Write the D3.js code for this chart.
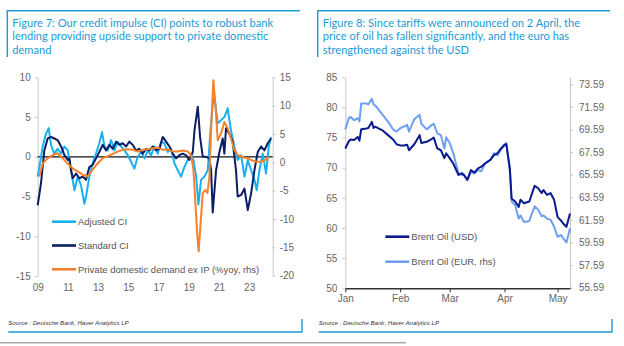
<!DOCTYPE html>
<html>
<head>
<meta charset="utf-8">
<script src="https://cdn.jsdelivr.net/npm/d3@7"></script>
<style>
  body { margin: 0; background: #fff; }
  svg { display: block; font-family: "Liberation Sans", Arial, sans-serif; }
</style>
</head>
<body>
<div id="chart"></div>
<script>
// Figure 7 data (decimal years)
const standardYears = [2009.00, 2009.22, 2009.44, 2009.66, 2009.88, 2010.10, 2010.32, 2010.55, 2010.77, 2010.99, 2011.10, 2011.21, 2011.32, 2011.54, 2011.76, 2011.98, 2012.20, 2012.42, 2012.64, 2012.86, 2013.08, 2013.30, 2013.53, 2013.75, 2013.97, 2014.19, 2014.41, 2014.63, 2014.85, 2015.07, 2015.29, 2015.51, 2015.73, 2015.95, 2016.17, 2016.40, 2016.62, 2016.84, 2017.06, 2017.28, 2017.50, 2017.72, 2017.94, 2018.16, 2018.38, 2018.60, 2018.82, 2019.04, 2019.27, 2019.38, 2019.60, 2019.75, 2019.93, 2020.15, 2020.37, 2020.48, 2020.59, 2020.81, 2021.03, 2021.25, 2021.36, 2021.47, 2021.69, 2021.91, 2022.13, 2022.24, 2022.47, 2022.69, 2022.91, 2023.13, 2023.35, 2023.57, 2023.79, 2024.01, 2024.23, 2024.45];
const standardCI = [-6.1, -3.3, 0.8, 2.3, 2.5, 2.3, 2.1, 1.3, 0.2, -0.4, -0.2, -1.7, -2.7, -2.1, -2.7, -2.5, -2.9, -1.3, -1.0, -0.2, 0.6, 1.5, 0.8, 1.5, 1.0, 1.9, 1.5, 1.7, 1.3, 1.9, 1.5, 0.8, 1.0, 0.4, 1.0, 0.8, 1.3, 0.8, 1.0, 2.5, 1.9, 1.3, 0.4, -0.2, 0.2, 0.4, 0.2, -0.4, 0.6, 3.3, 6.3, 2.5, 0.0, 0.0, -0.2, -1.7, -7.0, -1.7, 0.6, 2.3, 0.4, 3.6, 2.9, 1.9, -1.7, -5.0, -4.8, -4.0, -6.7, -4.6, -1.7, 0.6, 1.3, 0.8, 1.7, 2.3];

const adjustedYears = [2009.00, 2009.11, 2009.33, 2009.55, 2009.73, 2009.88, 2010.10, 2010.32, 2010.55, 2010.77, 2010.99, 2011.21, 2011.43, 2011.65, 2011.87, 2012.09, 2012.20, 2012.42, 2012.64, 2012.86, 2013.08, 2013.26, 2013.42, 2013.64, 2013.86, 2014.08, 2014.30, 2014.52, 2014.74, 2014.96, 2015.18, 2015.40, 2015.62, 2015.84, 2016.07, 2016.29, 2016.51, 2016.73, 2016.95, 2017.17, 2017.39, 2017.61, 2017.83, 2018.05, 2018.27, 2018.49, 2018.71, 2018.93, 2019.15, 2019.31, 2019.49, 2019.64, 2019.82, 2020.04, 2020.26, 2020.41, 2020.59, 2020.70, 2020.92, 2021.14, 2021.36, 2021.58, 2021.80, 2022.02, 2022.24, 2022.47, 2022.69, 2022.91, 2023.13, 2023.35, 2023.50, 2023.68, 2023.90, 2024.12, 2024.30, 2024.45];
const adjustedCI = [-2.5, -1.3, 1.3, 2.9, 3.6, 1.5, 0.4, 1.0, 0.4, 1.3, 0.8, -1.7, -4.2, -2.5, -3.6, -5.9, -5.0, -2.5, -0.8, 0.4, 1.7, 3.1, 1.3, 0.8, 2.1, 0.8, 1.9, 1.3, 0.8, 0.2, -0.6, -1.5, 0.0, 0.6, -0.2, 0.8, 0.2, 1.3, 0.4, 1.9, 1.7, 0.6, 1.0, -0.8, -1.7, -2.5, -1.3, -0.4, 0.2, -0.4, -2.5, -6.0, -2.9, -2.5, -1.7, 2.5, 6.7, 7.5, 4.2, 4.6, 5.0, 6.1, 3.3, 1.3, -0.4, 0.2, -2.5, -0.4, -1.7, -2.9, -4.2, -1.7, 0.4, -2.1, 1.3, 2.5];

const demandYears = [2009.11, 2009.33, 2009.66, 2009.99, 2010.32, 2010.66, 2010.99, 2011.32, 2011.65, 2011.98, 2012.31, 2012.64, 2012.97, 2013.30, 2013.64, 2013.97, 2014.30, 2014.63, 2014.96, 2015.29, 2015.62, 2015.95, 2016.28, 2016.62, 2016.95, 2017.28, 2017.61, 2017.94, 2018.27, 2018.60, 2018.93, 2019.15, 2019.31, 2019.44, 2019.57, 2019.66, 2019.77, 2019.93, 2020.10, 2020.24, 2020.37, 2020.50, 2020.63, 2020.76, 2020.92, 2021.14, 2021.36, 2021.58, 2021.80, 2022.02, 2022.24, 2022.58, 2022.91, 2023.13, 2023.46, 2023.79, 2024.12, 2024.30];
const privateDemand = [-2.5, -0.2, 0.7, 1.3, 1.6, 0.7, -0.2, -1.1, -1.6, -2.2, -2.5, -1.3, -0.2, 0.7, 1.1, 1.5, 1.9, 2.2, 2.3, 2.2, 1.9, 2.2, 2.3, 2.5, 2.6, 2.2, 2.3, 1.9, 1.9, 2.1, 1.9, 1.3, -1.3, -7.2, -13.0, -15.7, -11.3, -5.4, -4.9, -5.4, -2.5, 6.9, 14.5, 10.4, 3.9, 5.1, 7.1, 6.0, 4.2, 2.2, 1.3, 0.9, 0.7, 0.4, 0.1, 0.1, 0.5, 0.9];

const yearTicks = [2009, 2011, 2013, 2015, 2017, 2019, 2021, 2023];
const ciTicks = [-15, -10, -5, 0, 5, 10];
const demandTicks = [-20, -15, -10, -5, 0, 5, 10, 15];

// Figure 8 data (daily, 2025)
const oilDates = ["2025-01-01", "2025-01-03", "2025-01-04", "2025-01-06", "2025-01-08", "2025-01-09", "2025-01-10", "2025-01-13", "2025-01-14", "2025-01-16", "2025-01-17", "2025-01-18", "2025-01-20", "2025-01-22", "2025-01-24", "2025-01-26", "2025-01-28", "2025-01-30", "2025-02-01", "2025-02-03", "2025-02-05", "2025-02-06", "2025-02-09", "2025-02-12", "2025-02-13", "2025-02-16", "2025-02-19", "2025-02-20", "2025-02-22", "2025-02-24", "2025-02-26", "2025-02-27", "2025-03-01", "2025-03-03", "2025-03-06", "2025-03-08", "2025-03-09", "2025-03-11", "2025-03-13", "2025-03-15", "2025-03-17", "2025-03-19", "2025-03-21", "2025-03-24", "2025-03-26", "2025-03-28", "2025-03-30", "2025-04-01", "2025-04-02", "2025-04-04", "2025-04-05", "2025-04-07", "2025-04-09", "2025-04-10", "2025-04-12", "2025-04-15", "2025-04-18", "2025-04-20", "2025-04-22", "2025-04-23", "2025-04-25", "2025-04-27", "2025-04-29", "2025-05-01", "2025-05-03", "2025-05-04", "2025-05-06", "2025-05-08"];
const brentUSD = [73.2, 74.4, 74.7, 74.6, 75.1, 74.5, 76.4, 76.5, 76.6, 77.6, 76.6, 76.8, 76.5, 76.2, 75.7, 75.2, 74.7, 73.9, 73.7, 73.7, 73.8, 72.9, 73.9, 75.4, 74.1, 74.3, 74.8, 75.0, 73.2, 72.9, 71.6, 72.4, 71.6, 70.7, 68.8, 69.1, 68.8, 68.0, 69.6, 69.2, 69.9, 70.2, 70.7, 71.3, 72.1, 72.4, 73.2, 73.8, 73.9, 69.9, 64.9, 64.4, 63.5, 64.7, 64.1, 64.4, 67.0, 66.6, 65.8, 66.3, 65.5, 65.8, 64.7, 61.8, 61.2, 60.8, 60.2, 62.4];
const brentEUR = [69.6, 70.6, 70.7, 70.4, 70.6, 70.3, 71.9, 71.9, 71.8, 72.3, 71.8, 71.7, 71.3, 70.9, 70.5, 70.1, 69.6, 69.4, 69.7, 69.85, 70.0, 69.4, 70.5, 70.9, 70.1, 69.6, 70.0, 70.1, 69.25, 69.1, 67.9, 68.9, 68.4, 67.5, 65.7, 65.55, 65.6, 65.1, 65.85, 65.7, 66.0, 65.9, 66.6, 66.9, 67.5, 67.3, 67.8, 68.2, 68.4, 65.9, 63.2, 62.9, 61.7, 62.0, 61.4, 61.5, 62.8, 62.5, 61.9, 62.0, 61.7, 61.6, 61.0, 60.1, 60.25, 60.0, 59.6, 60.85];

const monthTicks = ["2025-01-01", "2025-02-01", "2025-03-01", "2025-04-01", "2025-05-01"];
const usdTicks = [50, 55, 60, 65, 70, 75, 80, 85];
const eurTicks = [55.59, 57.59, 59.59, 61.59, 63.59, 65.59, 67.59, 69.59, 71.59, 73.59];

const titleBlue = "#1e9ad6";
const tickGrey = "#666";

const svg = d3.select("#chart").append("svg")
    .attr("width", 624)
    .attr("height", 346);

// Title box, source line and footer rules for one panel
function drawFrame(x0, x1, titleLines) {
    const g = svg.append("g");
    g.append("path")
        .attr("d", `M${x0},57V10.7H${x1}`)
        .attr("fill", "none")
        .attr("stroke", titleBlue)
        .attr("stroke-width", 1.4);

    g.append("text")
        .attr("x", x0 + 5)
        .attr("y", 26.5)
        .attr("fill", titleBlue)
        .attr("font-size", "11.1px")
        .attr("font-family", "Lato, sans-serif")
        .selectAll("tspan")
        .data(titleLines)
        .enter().append("tspan")
        .attr("x", x0 + 5)
        .attr("dy", (d, i) => i === 0 ? 0 : 13.6)
        .text(d => d);

    g.append("text")
        .attr("x", x0 + 1)
        .attr("y", 324.5)
        .attr("font-size", "6.1px")
        .attr("font-style", "italic")
        .attr("fill", "#333")
        .text("Source : Deutsche Bank, Haver Analytics LP");

    g.append("path")
        .attr("d", `M${x0 + 1},332H${x1 + 2}V319`)
        .attr("fill", "none")
        .attr("stroke", titleBlue)
        .attr("stroke-width", 1.4);
}

function styleAxis(g, lineColor) {
    g.select(".domain").attr("stroke", lineColor);
    g.selectAll(".tick line").attr("stroke", lineColor);
    g.selectAll(".tick text")
        .attr("fill", tickGrey)
        .attr("font-size", "10px");
}

function drawLegend(items, x, y0, step) {
    const g = svg.append("g");
    items.forEach((item, i) => {
        const y = y0 + i * step;
        g.append("line")
            .attr("x1", x).attr("x2", x + 24)
            .attr("y1", y).attr("y2", y)
            .attr("stroke", item.color)
            .attr("stroke-width", 2.6);
        g.append("text")
            .attr("x", x + 26)
            .attr("y", y + 3.4)
            .attr("font-size", "9.5px")
            .attr("fill", "#555")
            .text(item.label);
    });
}

// ---- Figure 7 ----
drawFrame(7.3, 300, [
    "Figure 7: Our credit impulse (CI) points to robust bank",
    "lending providing upside support to private domestic",
    "demand"
]);

const xYear = d3.scaleLinear().domain([2009, 2024.5]).range([37.7, 271.8]);
const yCI = d3.scaleLinear().domain([-15, 10]).range([276, 77.3]);
const yDemand = d3.scaleLinear().domain([-20, 15]).range([275.7, 77.3]);

const leftAxis = svg.append("g")
    .attr("transform", "translate(37.7,0)")
    .call(d3.axisLeft(yCI).tickValues(ciTicks).tickSize(3).tickSizeOuter(0).tickPadding(4).tickFormat(d => String(d)));
styleAxis(leftAxis, "#c8c8c8");

const rightAxis = svg.append("g")
    .attr("transform", "translate(272.7,0)")
    .call(d3.axisRight(yDemand).tickValues(demandTicks).tickSize(3).tickSizeOuter(0).tickPadding(4).tickFormat(d => String(d)));
styleAxis(rightAxis, "#c8c8c8");

const yearAxis = svg.append("g")
    .attr("transform", "translate(0,281)")
    .call(d3.axisBottom(xYear).tickValues(yearTicks).tickSize(0).tickPadding(3).tickFormat(d => String(d).slice(2)));
yearAxis.select(".domain").remove();
styleAxis(yearAxis, "none");

// zero line
svg.append("line")
    .attr("x1", xYear(2009)).attr("x2", 272.7)
    .attr("y1", yCI(0)).attr("y2", yCI(0))
    .attr("stroke", "#111")
    .attr("stroke-width", 1.3);

const ciLine = d3.line().x(d => xYear(d[0])).y(d => yCI(d[1]));
const demandLine = d3.line().x(d => xYear(d[0])).y(d => yDemand(d[1]));

svg.append("path")
    .datum(d3.zip(adjustedYears, adjustedCI))
    .attr("d", ciLine)
    .attr("fill", "none")
    .attr("stroke", "#18b0ee")
    .attr("stroke-width", 2)
    .attr("stroke-linejoin", "round");

svg.append("path")
    .datum(d3.zip(standardYears, standardCI))
    .attr("d", ciLine)
    .attr("fill", "none")
    .attr("stroke", "#0b1d63")
    .attr("stroke-width", 2)
    .attr("stroke-linejoin", "round");

svg.append("path")
    .datum(d3.zip(demandYears, privateDemand))
    .attr("d", demandLine)
    .attr("fill", "none")
    .attr("stroke", "#f5822a")
    .attr("stroke-width", 2)
    .attr("stroke-linejoin", "round");

drawLegend([
    { label: "Adjusted CI", color: "#18b0ee" },
    { label: "Standard CI", color: "#0b1d63" },
    { label: "Private domestic demand ex IP (%yoy, rhs)", color: "#f5822a" }
], 52, 221.7, 23.8);

// ---- Figure 8 ----
drawFrame(317.7, 610, [
    "Figure 8: Since tariffs were announced on 2 April, the",
    "price of oil has fallen significantly, and the euro has",
    "strengthened against the USD"
]);

const parseDate = d3.timeParse("%Y-%m-%d");
const xDate = d3.scaleTime()
    .domain([parseDate("2025-01-01"), parseDate("2025-05-08")])
    .range([345.3, 570]);
const yUSD = d3.scaleLinear().domain([50, 85]).range([288.3, 77.3]);
const yEUR = d3.scaleLinear().domain([55.59, 74.2]).range([287.7, 77.4]);

const usdAxis = svg.append("g")
    .attr("transform", "translate(345.3,0)")
    .call(d3.axisLeft(yUSD).tickValues(usdTicks).tickSize(3).tickSizeOuter(0).tickPadding(5).tickFormat(d => String(d)));
styleAxis(usdAxis, "#c8c8c8");

const eurAxis = svg.append("g")
    .attr("transform", "translate(570,0)")
    .call(d3.axisRight(yEUR).tickValues(eurTicks).tickSize(3).tickSizeOuter(0).tickPadding(6).tickFormat(d3.format(".2f")));
styleAxis(eurAxis, "#c8c8c8");

const monthAxis = svg.append("g")
    .attr("transform", "translate(0,288.3)")
    .call(d3.axisBottom(xDate).tickValues(monthTicks.map(parseDate)).tickSize(4).tickSizeOuter(0).tickPadding(3).tickFormat(d3.timeFormat("%b")));
styleAxis(monthAxis, "#333");
monthAxis.select(".domain").attr("stroke-width", 1.5);

const oilDays = oilDates.map(parseDate);

svg.append("path")
    .datum(d3.zip(oilDays, brentEUR))
    .attr("d", d3.line().x(d => xDate(d[0])).y(d => yEUR(d[1])))
    .attr("fill", "none")
    .attr("stroke", "#6f9ff0")
    .attr("stroke-width", 2)
    .attr("stroke-linejoin", "round");

svg.append("path")
    .datum(d3.zip(oilDays, brentUSD))
    .attr("d", d3.line().x(d => xDate(d[0])).y(d => yUSD(d[1])))
    .attr("fill", "none")
    .attr("stroke", "#0a1a8f")
    .attr("stroke-width", 2)
    .attr("stroke-linejoin", "round");

drawLegend([
    { label: "Brent Oil (USD)", color: "#0a1a8f" },
    { label: "Brent Oil (EUR, rhs)", color: "#6f9ff0" }
], 385.3, 236.7, 25);

// footer rule
svg.append("line")
    .attr("x1", 0).attr("x2", 406)
    .attr("y1", 342.7).attr("y2", 342.7)
    .attr("stroke", "#aaa")
    .attr("stroke-width", 1.5);
</script>
</body>
</html>
